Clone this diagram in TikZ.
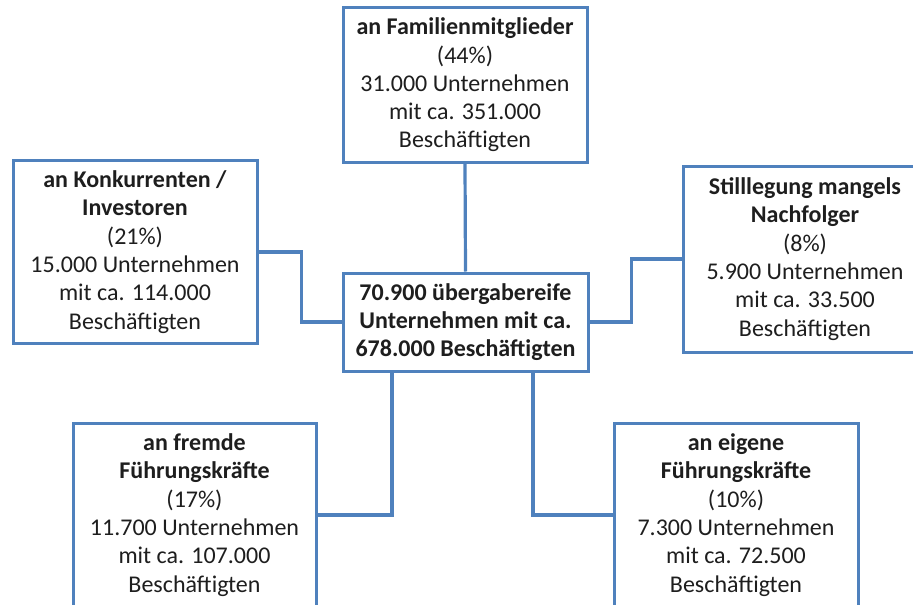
\documentclass[tikz,border=0pt]{standalone}
\usepackage{fontspec}
\setmainfont{Carlito}
\definecolor{boxblue}{HTML}{4F81BD}
\definecolor{txt}{HTML}{1E1E1E}
\begin{document}
\begin{tikzpicture}[x=1pt,y=-1pt,
  box/.style={draw=boxblue, line width=3pt, fill=white, inner sep=0pt,
    minimum width=244pt, align=center, text=txt,
    font=\fontsize{24}{28.3}\selectfont},
  conn/.style={draw=boxblue, line width=3.2pt}]
\useasboundingbox (0,0) rectangle (913,605);
\clip (0,0) rectangle (913,605);
\node[box, minimum height=155pt] (T) at (465,85)
  {\textbf{an Familienmitglieder}\\(44\%)\\31.000 Unternehmen\\mit ca. 351.000\\Beschäftigten};
\node[box, minimum height=183pt] (L) at (135,252)
  {\textbf{an Konkurrenten /}\\\textbf{Investoren}\\(21\%)\\15.000 Unternehmen\\mit ca. 114.000\\Beschäftigten};
\node[box, minimum height=186pt] (R) at (805,259)
  {\textbf{Stilllegung mangels}\\\textbf{Nachfolger}\\(8\%)\\5.900 Unternehmen\\mit ca. 33.500\\Beschäftigten};
\node[box, minimum width=245pt, minimum height=98pt] (C) at (465.5,322)
  {\textbf{70.900 übergabereife}\\\textbf{Unternehmen mit ca.}\\\textbf{678.000 Beschäftigten}};
\node[box, minimum width=243pt, minimum height=183pt] (BL) at (194.5,515)
  {\textbf{an fremde}\\\textbf{Führungskräfte}\\(17\%)\\11.700 Unternehmen\\mit ca. 107.000\\Beschäftigten};
\node[box, minimum height=183pt] (BR) at (736,515)
  {\textbf{an eigene}\\\textbf{Führungskräfte}\\(10\%)\\7.300 Unternehmen\\mit ca. 72.500\\Beschäftigten};
\draw[conn] (T.south) -- (C.north);
\draw[conn] (L.east) -- ++(43,0) |- (C.west);
\draw[conn] (R.west) -- ++(-50,0) |- (C.east);
\draw[conn] ([xshift=-73.5pt]C.south) |- (BL.east);
\draw[conn] ([xshift=67.5pt]C.south) |- (BR.west);
\end{tikzpicture}
\end{document}
